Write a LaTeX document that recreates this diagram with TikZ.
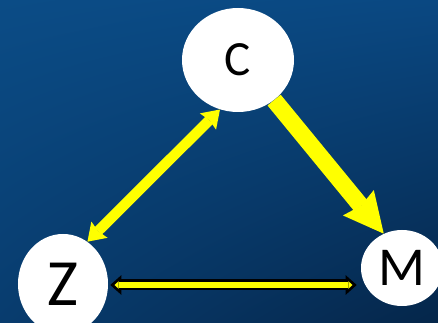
\documentclass[tikz,border=0pt]{standalone}
\usepackage{fontspec}
\setmainfont{Carlito}
\usepackage{xcolor}
\definecolor{bgtl}{HTML}{0B4C86}
\definecolor{bgtr}{HTML}{0A4882}
\definecolor{bgbl}{HTML}{083C6E}
\definecolor{bgbr}{HTML}{05264A}
\definecolor{arrc}{HTML}{FFFF00}
\usetikzlibrary{arrows.meta,positioning,calc,shapes.geometric,shadings}
\tikzset{
  var/.style={ellipse,fill=white,draw=none,inner sep=0pt,text=black},
  bigtip/.tip={Stealth[length=4.25mm,width=5.75mm,inset=0.5mm,line width=0pt]},
  link/.style={draw=arrc,line width=2.6mm,bigtip-bigtip},
  cause/.style={draw=arrc,line width=4.25mm,-{Stealth[length=10mm,width=10mm,inset=1mm,line width=0pt]}},
  edgeout/.style={draw=black,line width=2.75mm,{Triangle[length=2.75mm,width=4.9mm,line width=0pt]}-{Triangle[length=2.75mm,width=4.9mm,line width=0pt]}},
  edgein/.style={draw=arrc,line width=1.4mm,shorten <=1.05mm,shorten >=1.05mm,{Triangle[length=1.05mm,width=1.9mm,line width=0pt]}-{Triangle[length=1.05mm,width=1.9mm,line width=0pt]}},
}
\begin{document}
\begin{tikzpicture}[x=0.25mm,y=-0.25mm]
  % background
  \shade[upper left=bgtl,upper right=bgtr,lower left=bgbl,lower right=bgbr] (0,0) rectangle (438,323);
  \useasboundingbox (0,0) rectangle (438,323);
  \begin{scope}
    \clip (0,0) rectangle (438,323);
    \node[var,minimum width=28mm,minimum height=26mm,font=\fontsize{35}{35}\selectfont] (C) at (238,60) {C};
    \node[var,minimum width=22.5mm,minimum height=25mm,font=\fontsize{47}{47}\selectfont] (Z) at (63,284) {Z};
    \node[var,minimum width=20.5mm,minimum height=19mm,font=\fontsize{39}{39}\selectfont] (M) at (402,268) {M};
    % C <-> Z
    \draw[link] (C.250) -- (Z.60);
    % C -> M
    \draw[cause] (C.-48) -- (M.118);
    % Z <-> M
    \coordinate (zr) at ($(Z.east)+(2,1)$);
    \coordinate (ml) at ($(zr -| M.west)+(-4,0)$);
    \draw[edgeout] (zr) -- (ml);
    \draw[edgein] (zr) -- (ml);
  \end{scope}
\end{tikzpicture}
\end{document}
